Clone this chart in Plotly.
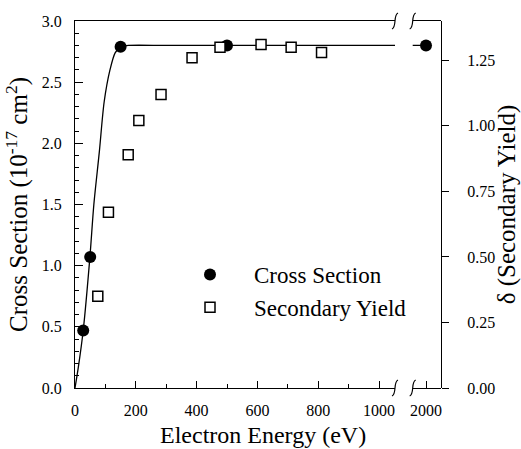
import plotly.graph_objects as go

# Electron-impact cross section (left axis, 1e-17 cm^2)
cs_energy = [27, 50, 150, 500, 2000]
cs_value = [0.47, 1.07, 2.79, 2.80, 2.80]

# Smooth fit through the cross-section data
fit_energy = [0, 11, 27, 49, 62, 80, 96, 115, 132, 150, 175, 300, 500, 1000, 2000]
fit_value = [0.0, 0.17, 0.47, 1.07, 1.50, 1.93, 2.34, 2.60, 2.74, 2.79, 2.80, 2.80, 2.80, 2.80, 2.80]

# Secondary electron yield (right axis)
sy_energy = [75, 110, 175, 210, 283, 385, 477, 612, 711, 811]
sy_value = [0.35, 0.67, 0.89, 1.02, 1.12, 1.26, 1.30, 1.31, 1.30, 1.28]

x_ticks_main = [0, 200, 400, 600, 800, 1000]
x_ticks_tail = [2000]
y_ticks_left = [0.0, 0.5, 1.0, 1.5, 2.0, 2.5, 3.0]
y_ticks_right = [0.0, 0.25, 0.5, 0.75, 1.0, 1.25]

W, H = 521, 449
ML, MR, MT, MB = 75, 80, 21, 61
PW, PH = W - ML - MR, H - MT - MB

FONT = "Liberation Serif"
D1_END = 320 / PW
D2_START = 337.7 / PW

fig = go.Figure()

for xa in ("x", "x2"):
    fig.add_trace(go.Scatter(
        x=fit_energy, y=fit_value, xaxis=xa, yaxis="y",
        mode="lines", line=dict(color="black", width=1.3, shape="spline", smoothing=0.8),
        showlegend=False, hoverinfo="skip"))

fig.add_trace(go.Scatter(
    x=cs_energy, y=cs_value, xaxis="x", yaxis="y", mode="markers",
    name="Cross Section",
    marker=dict(symbol="circle", size=12, color="black")))
fig.add_trace(go.Scatter(
    x=cs_energy, y=cs_value, xaxis="x2", yaxis="y", mode="markers",
    showlegend=False,
    marker=dict(symbol="circle", size=12, color="black")))
fig.add_trace(go.Scatter(
    x=sy_energy, y=sy_value, xaxis="x", yaxis="y2", mode="markers",
    name="Secondary Yield",
    marker=dict(symbol="square", size=10, color="white",
                line=dict(color="black", width=1.5))))

tickfont = dict(family=FONT, size=16, color="black")
ytitlefont = dict(family=FONT, size=25, color="black")
xtitlefont = dict(family=FONT, size=24, color="black")

common_x = dict(showline=True, linecolor="black", linewidth=1.2, mirror=True,
                showgrid=False, zeroline=False, ticks="inside", tickcolor="black",
                tickfont=tickfont, ticklabelstandoff=8, automargin=False)

fig.update_layout(
    width=W, height=H,
    margin=dict(l=ML, r=MR, t=MT, b=MB, autoexpand=False),
    paper_bgcolor="white", plot_bgcolor="white",
    font=dict(family=FONT, color="black"),
    xaxis=dict(common_x, domain=[0, D1_END], range=[0, 320 / 0.304],
               tickvals=x_ticks_main, ticklen=7,
               minor=dict(dtick=100, ticks="inside", ticklen=4, tickcolor="black"),
               anchor="y"),
    xaxis2=dict(common_x, domain=[D2_START, 1],
                range=[2000 - 13.3 / 0.304, 2000 - 13.3 / 0.304 + (PW - 337.7) / 0.304],
                tickvals=x_ticks_tail, ticklen=7, anchor="y"),
    yaxis=dict(range=[0, 3.0], tickvals=y_ticks_left, tickformat=".1f",
               showline=True, linecolor="black", linewidth=1.2, showgrid=False,
               zeroline=False, ticks="inside", ticklen=8, tickcolor="black",
               minor=dict(dtick=0.1, ticks="inside", ticklen=4, tickcolor="black"),
               tickfont=tickfont, ticklabelstandoff=9, anchor="x", automargin=False,
               title=dict(text="Cross Section (10<sup>-17</sup> cm<sup>2</sup>)",
                          font=ytitlefont, standoff=6)),
    yaxis2=dict(range=[0, 1.4], tickvals=y_ticks_right, tickformat=".2f",
                overlaying="y", side="right", anchor="free", position=1,
                showline=True, linecolor="black", linewidth=1.2, showgrid=False,
                zeroline=False, ticks="outside", ticklen=7, tickcolor="black",
                tickfont=tickfont, ticklabelstandoff=15, automargin=False,
                title=dict(text="δ (Secondary Yield)", font=ytitlefont, standoff=3)),
    legend=dict(x=(166 - ML) / PW, y=(H - MB - 253) / PH, xanchor="left", yanchor="top",
                bgcolor="rgba(0,0,0,0)", font=dict(family=FONT, size=23, color="black"),
                itemwidth=78, tracegroupgap=0),
    showlegend=True,
)

fig.add_annotation(text="Electron Energy (eV)", xref="paper", yref="paper",
                   x=(263 - ML) / PW, y=-(435 - (H - MB)) / PH, showarrow=False,
                   font=xtitlefont, xanchor="center", yanchor="middle")


# Axis break marks drawn as small S-curves at the ends of the two segments
def brk_path(xc, yc):
    sx, sy = 1 / PW, 1 / PH
    pts = [(3, 8), (-2, 6), (2, -6), (-3, -8)]
    (a, b), (c, d), (e, f), (g, h) = [(xc + u * sx, yc + v * sy) for u, v in pts]
    return f"M {a},{b} C {c},{d} {e},{f} {g},{h}"


for xc in (D1_END, D2_START):
    for yc in (0.0, 1.0):
        fig.add_shape(type="path", xref="paper", yref="paper",
                      path=brk_path(xc, yc), line=dict(color="black", width=1.2))

fig.write_html("out.html")
